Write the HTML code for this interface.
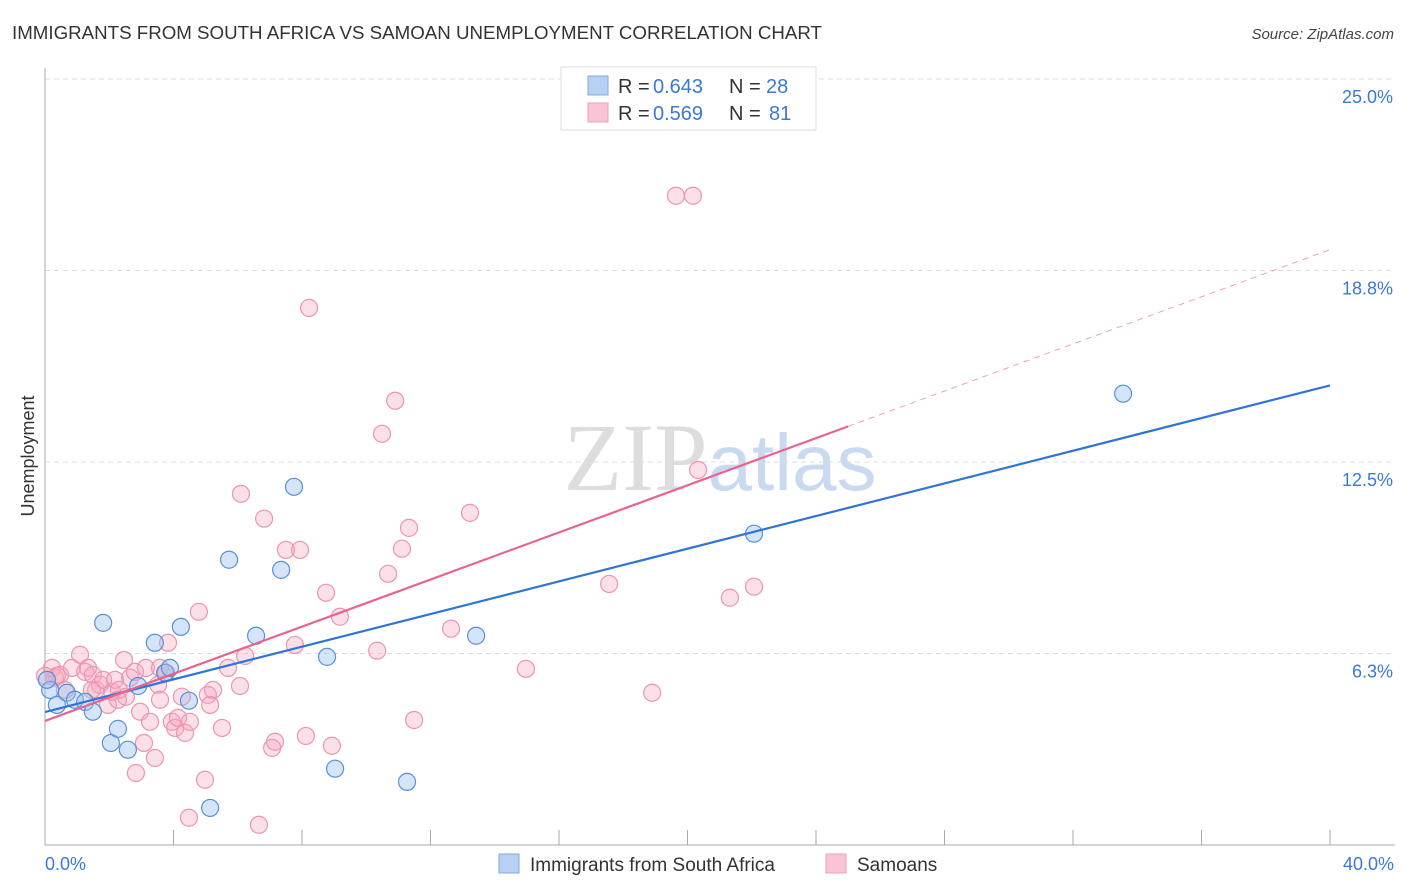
<!DOCTYPE html>
<html><head><meta charset="utf-8"><style>
body{margin:0;background:#fff;font-family:"Liberation Sans",sans-serif;}
#wrap{position:relative;width:1406px;height:892px;overflow:hidden;}
</style></head><body>
<div id="wrap">
<svg id="svg" width="1406" height="892">
<text x="12" y="39" font-size="18" fill="#333" textLength="810" lengthAdjust="spacingAndGlyphs">IMMIGRANTS FROM SOUTH AFRICA VS SAMOAN UNEMPLOYMENT CORRELATION CHART</text>
<text x="1394" y="39" font-size="15" fill="#444" font-style="italic" text-anchor="end">Source: ZipAtlas.com</text>
<text x="720" y="490" font-size="96" fill="#ddd" text-anchor="middle" font-family="Liberation Serif">ZIP<tspan fill="#c9d9ef" font-family="Liberation Sans" font-size="80">atlas</tspan></text>
<text transform="translate(34,456) rotate(-90)" font-size="18" fill="#333" text-anchor="middle">Unemployment</text>
<g id="grid"></g><g id="pts"></g><g id="lines"></g>
<g>
<rect x="561" y="67" width="255" height="63" fill="#fff" stroke="#ddd"/>
<rect x="588" y="76" width="20" height="19" fill="#b8d0f2" stroke="#7fa9e0"/>
<rect x="588" y="103" width="20" height="19" fill="#f9c5d5" stroke="#eea0b8"/>
<text x="618" y="93" font-size="20" fill="#333">R =</text><text x="653" y="93" font-size="20" fill="#3b78d8">0.643</text>
<text x="729" y="93" font-size="20" fill="#333">N =</text><text x="766" y="93" font-size="20" fill="#3b78d8">28</text>
<text x="618" y="120" font-size="20" fill="#333">R =</text><text x="653" y="120" font-size="20" fill="#3b78d8">0.569</text>
<text x="729" y="120" font-size="20" fill="#333">N =</text><text x="769" y="120" font-size="20" fill="#3b78d8">81</text>
</g>
<g>
<rect x="499" y="854" width="20" height="19" fill="#b8d0f2" stroke="#7fa9e0"/>
<text x="530" y="871" font-size="19" fill="#333">Immigrants from South Africa</text>
<rect x="826" y="854" width="20" height="19" fill="#f9c5d5" stroke="#eea0b8"/>
<text x="857" y="871" font-size="19" fill="#333">Samoans</text>
</g>
<text x="45" y="870" font-size="18" fill="#3b78d8">0.0%</text>
<text x="1394" y="870" font-size="18" fill="#3b78d8" text-anchor="end">40.0%</text>
</svg></div>
<script>
const yTicks=[25,18.75,12.5,6.25];
const yTickLabels=["25.0%","18.8%","12.5%","6.3%"];
const xTicks=[0,4,8,12,16,20,24,28,32,36,40];
const blueX=[.16,.37,.68,.93,1.25,1.49,1.81,2.05,2.27,2.58,2.90,3.42,3.74,3.89,4.23,4.48,5.14,5.73,6.57,7.35,7.75,8.78,9.03,11.27,13.42,22.07,33.56,.06];
const blueY=[5.06,4.57,4.97,4.74,4.67,4.35,7.25,3.33,3.79,3.11,5.19,6.6,5.62,5.78,7.12,4.71,1.21,9.31,6.83,8.98,11.69,6.14,2.49,2.06,6.83,10.16,14.73,5.39];
const pinkX=[.22,.31,.47,.62,.84,1.09,1.25,1.34,1.49,1.59,1.71,1.81,1.96,2.09,2.18,2.30,2.46,2.52,2.65,2.80,2.96,3.08,3.14,3.27,3.42,3.52,3.58,3.77,3.83,3.95,4.05,4.14,4.26,4.36,4.48,4.51,4.79,4.98,5.07,5.14,5.23,5.51,5.70,6.10,6.23,6.07,6.82,7.07,7.16,7.50,7.78,7.94,8.12,8.22,8.75,8.93,9.18,10.34,10.49,10.68,10.90,11.11,11.33,11.49,12.64,13.23,14.97,17.56,18.90,19.64,20.17,20.33,21.32,22.07,2.83,6.66,.37,0,1.46,3.58,2.27];
const pinkY=[5.78,5.46,5.55,5.06,5.78,6.21,5.65,5.78,5.55,5.06,5.23,5.39,4.57,5.0,5.39,5.06,6.04,4.84,5.46,5.65,4.35,3.33,5.78,4.02,2.84,5.23,5.78,5.62,6.6,4.02,3.82,4.15,4.84,3.66,.89,4.02,7.61,2.13,4.9,4.57,5.06,3.82,5.78,11.46,6.17,5.19,10.65,3.17,3.37,9.63,6.53,9.63,3.56,17.53,8.23,3.24,7.45,6.34,13.42,8.85,14.5,9.67,10.35,4.08,7.06,10.84,5.75,8.52,4.97,21.19,21.19,12.24,8.07,8.43,2.35,.66,5.52,5.52,5.06,4.74,4.74];
const blueLine=[4.34,15.0];
const pinkLine=[4.05,19.43];
const pinkSolidEnd=25;
const X=v=>45+v/40*1285, Y=v=>845-v*30.64;
const NS="http://www.w3.org/2000/svg";
function mk(t,a,p){const e=document.createElementNS(NS,t);for(const k in a)e.setAttribute(k,a[k]);p.appendChild(e);return e;}
const grid=document.getElementById('grid');
yTicks.forEach((t,i)=>{
 const l=mk('line',{x1:45,x2:1395,y1:Y(t),y2:Y(t),stroke:'#ddd','stroke-dasharray':'5,4'},grid);
 
 
 const tx=mk('text',{x:1393,y:Y(t)+24,'font-size':18,fill:'#3b78d8','text-anchor':'end'},grid);
 tx.textContent=yTickLabels[i];
 
 
});
const ax=mk('line',{x1:45,x2:45,y1:68,y2:845,stroke:'#aaa'},grid);


const bx=mk('line',{x1:45,x2:1395,y1:845,y2:845,stroke:'#aaa'},grid);


xTicks.forEach(t=>{const l=mk('line',{x1:X(t),x2:X(t),y1:830,y2:845,stroke:'#aaa'},grid);
 
 });
const pts=document.getElementById('pts');
pinkX.forEach((x,i)=>{const c=mk('circle',{cx:X(x),cy:Y(pinkY[i]),r:8.5,fill:'rgba(245,165,190,0.35)',stroke:'#ec94b0','stroke-width':1.2},pts);
 
 });
blueX.forEach((x,i)=>{const c=mk('circle',{cx:X(x),cy:Y(blueY[i]),r:8.5,fill:'rgba(150,190,240,0.4)',stroke:'#5b8fd8','stroke-width':1.2},pts);
 
 });
const lines=document.getElementById('lines');
const pAt=x=>pinkLine[0]+(pinkLine[1]-pinkLine[0])*x/40;
const b=mk('line',{x1:X(0),y1:Y(blueLine[0]),x2:X(40),y2:Y(blueLine[1]),stroke:'#2f74d6','stroke-width':2.2},lines);


const p=mk('line',{x1:X(0),y1:Y(pAt(0)),x2:X(pinkSolidEnd),y2:Y(pAt(pinkSolidEnd)),stroke:'#e8648f','stroke-width':2.2},lines);


const pd=mk('line',{x1:X(pinkSolidEnd),y1:Y(pAt(pinkSolidEnd)),x2:X(40),y2:Y(pAt(40)),stroke:'#eea0b8','stroke-width':1,'stroke-dasharray':'6,5'},lines);


</script>
</body></html>
